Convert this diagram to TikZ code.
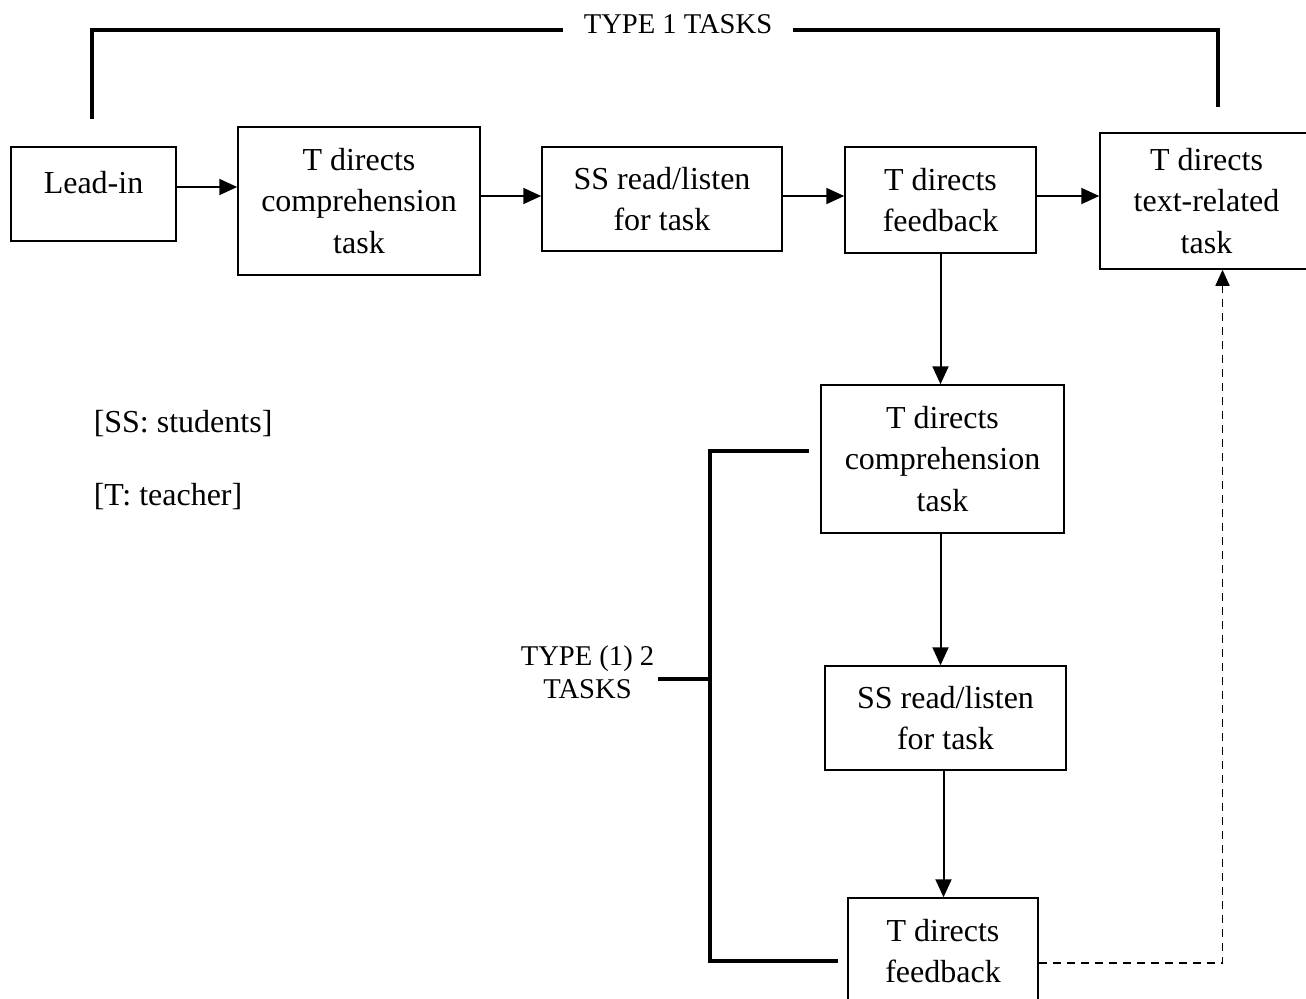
\documentclass[tikz,border=0pt]{standalone}
\usepackage{fontspec}
\setmainfont{Liberation Serif}
\usetikzlibrary{positioning,arrows.meta}

\begin{document}
\begin{tikzpicture}[x=0.5pt, y=-0.5pt]
\tikzset{
    every node/.style = {draw, rectangle, line width=.75pt, align=center, inner sep=0pt,
        font=\fontsize{16}{20.85}\selectfont},
    flow/.style = {-{Triangle[length=9pt,width=8pt]}, line width=1pt},
    back/.style = {-{Triangle[length=8pt,width=7pt]}, line width=.8pt, dash pattern=on 4pt off 3pt},
    brace/.style = {line width=2pt},
    lbl/.style = {draw=none, font=\fontsize{14.3}{16.5}\selectfont},
    note/.style = {draw=none, anchor=base west}
}
\useasboundingbox (0,0) rectangle (1306,998);
\clip (0,0) rectangle (1306,998);

% -------------------------------------------------------
\node[minimum width=82.5pt, minimum height=47pt] (lead) at (93.5,194) {Lead-in\\[-9pt]\mbox{}};
\node[minimum width=121pt, minimum height=74pt] (compT) at (359,201) {T directs\\comprehension\\task};
\node[minimum width=120pt, minimum height=52pt] (readT) at (662,199) {SS read/listen\\for task};
\node[minimum width=95.5pt, minimum height=53pt] (feedT) at (940.5,200) {T directs\\feedback};
\node[minimum width=106.5pt, minimum height=68pt] (textT) at (1206.5,201) {T directs\\text-related\\task};

\node[minimum width=121.5pt, minimum height=74pt] (compB) at (942.5,459) {T directs\\comprehension\\task};
\node[minimum width=120.5pt, minimum height=52pt] (readB) at (945.5,718) {SS read/listen\\for task};
\node[minimum width=95pt, minimum height=53pt] (feedB) at (943,951) {T directs\\feedback};

\node[note] (ss) at (93,432) {[SS: students]};
\node[note] (tt) at (93,505) {[T: teacher]};

\node[lbl] (type1) at (678,24) {TYPE 1 TASKS};
\node[lbl, anchor=east] (type2) at (655,672) {TYPE (1) 2\\TASKS};

% -------------------------------------------------------
\coordinate (t1l) at (92,119);
\coordinate (t1r) at (1218,107);
\draw[brace] (t1l) |- ([xshift=-10pt,yshift=-3pt]type1.west);
\draw[brace] ([xshift=10pt,yshift=-3pt]type1.east) -| (t1r);

\coordinate (t2top) at (809,451);
\coordinate (t2x) at (710,961);
\coordinate (t2bot) at (838,961);
\draw[brace] (t2top) -| (t2x) -- (t2bot);
\draw[brace] ([xshift=1.5pt,yshift=-3.5pt]type2.east) -- ([yshift=-3.5pt]type2.east -| t2x);

% -------------------------------------------------------
\draw[flow] ([yshift=3.5pt]lead.east) -- ([yshift=3.5pt]lead.east -| compT.west);
\draw[flow] ([yshift=2.5pt]compT.east) -- ([yshift=2.5pt]compT.east -| readT.west);
\draw[flow] ([yshift=1.5pt]readT.east) -- ([yshift=1.5pt]readT.east -| feedT.west);
\draw[flow] ([yshift=2pt]feedT.east) -- ([yshift=2pt]feedT.east -| textT.west);

\draw[flow] (feedT.south) -- (feedT.south |- compB.north);
\draw[flow] ([xshift=-1pt]compB.south) -- ([xshift=-1pt]compB.south |- readB.north);
\draw[flow] ([xshift=-1pt]readB.south) -- ([xshift=-1pt]readB.south |- feedB.north);

\draw[back] ([yshift=-6pt]feedB.east) -| ([xshift=8pt]textT.south);
\end{tikzpicture}
\end{document}
